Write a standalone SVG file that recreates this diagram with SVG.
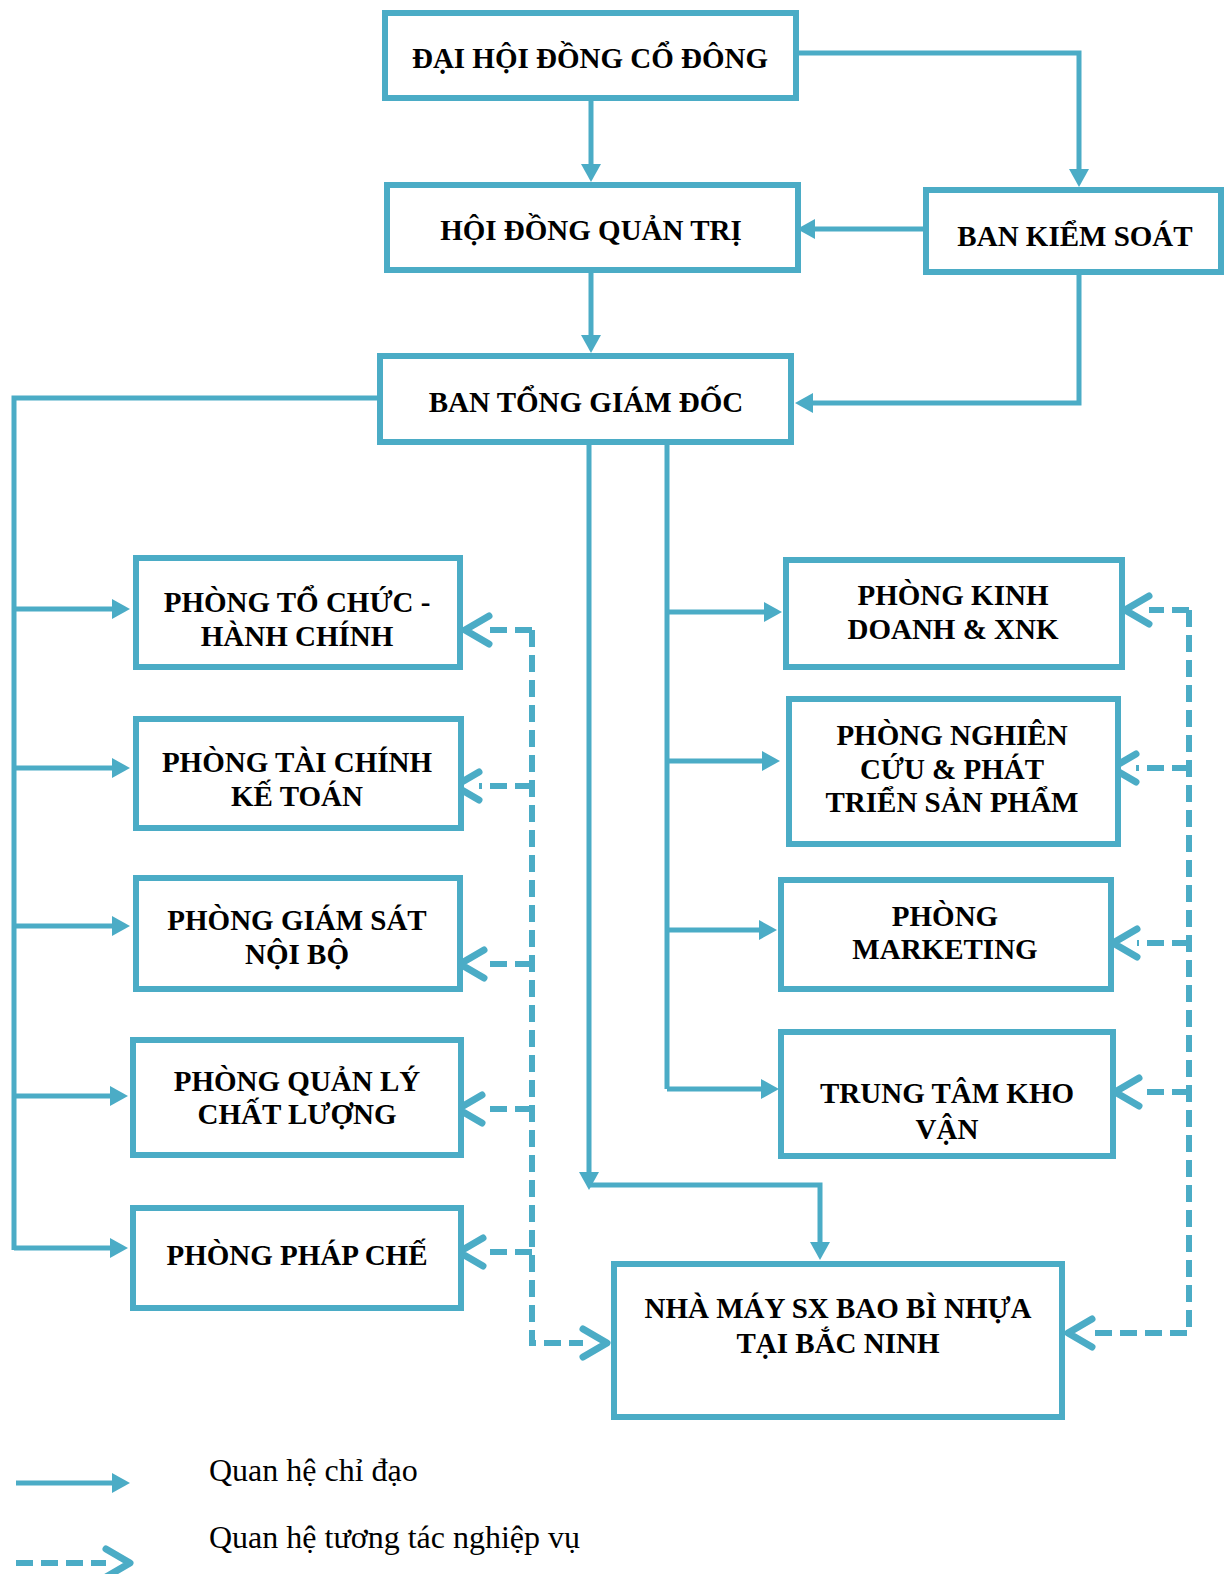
<svg xmlns="http://www.w3.org/2000/svg" width="1225" height="1574" viewBox="0 0 1225 1574">
<style>
.box{fill:#fff;stroke:#4BACC6;stroke-width:6}
.t{font-family:"Liberation Serif","Times New Roman",serif;font-weight:bold;font-size:29px;fill:#000;text-anchor:middle}
.lg{font-family:"Liberation Serif","Times New Roman",serif;font-size:32px;fill:#000}
.s{fill:none;stroke:#4BACC6;stroke-width:5}
.sa{marker-end:url(#arr)}
.d{fill:none;stroke:#4BACC6;stroke-width:6;stroke-dasharray:17 8;marker-end:url(#chev)}
</style>
<defs>
<marker id="arr" markerUnits="userSpaceOnUse" viewBox="0 0 18 20" markerWidth="18" markerHeight="20" refX="10" refY="10" orient="auto">
<path d="M0,0 L18,10 L0,20 Z" fill="#4BACC6"/>
</marker>
<marker id="chev" markerUnits="userSpaceOnUse" viewBox="-6 -20 40 40" markerWidth="40" markerHeight="40" refX="0" refY="0" orient="auto">
<path d="M0,-14 L24,0 L0,14" fill="none" stroke="#4BACC6" stroke-width="7" stroke-linecap="round" stroke-linejoin="round"/>
</marker>
</defs>

<g id="connectors">
<path class="s sa" d="M591,101 V174"/>
<path class="s sa" d="M799,53 H1079 V179"/>
<path class="s sa" d="M923,229 H805"/>
<path class="s sa" d="M591,273 V345"/>
<path class="s sa" d="M1079,275 V403 H803"/>
<path class="s" d="M377,398 H14 V1250"/>
<path class="s sa" d="M14,609 H122"/>
<path class="s sa" d="M14,768 H122"/>
<path class="s sa" d="M14,926 H122"/>
<path class="s sa" d="M14,1096 H120"/>
<path class="s sa" d="M14,1248 H120"/>
<path class="s" d="M667,445 V1089"/>
<path class="s sa" d="M667,612 H774"/>
<path class="s sa" d="M667,761 H772"/>
<path class="s sa" d="M667,930 H769"/>
<path class="s sa" d="M667,1089 H771"/>
<path class="s sa" d="M589,445 V1182"/>
<path class="s sa" d="M589,1185 H820 V1252"/>
<path class="d" d="M532,630 V1343 H583"/>
<path class="d" d="M532,630 H489"/>
<path class="d" d="M532,786 H479"/>
<path class="d" d="M532,964 H484"/>
<path class="d" d="M532,1109 H482"/>
<path class="d" d="M532,1252 H483"/>
<path class="d" d="M1189,610 V1333 H1092"/>
<path class="d" d="M1189,610 H1149"/>
<path class="d" d="M1189,768 H1136"/>
<path class="d" d="M1189,943 H1137"/>
<path class="d" d="M1189,1092 H1139"/>
</g>

<g id="n-dhdcd"><rect class="box" x="385" y="13" width="411" height="85"/><text class="t" x="590" y="68">ĐẠI HỘI ĐỒNG CỔ ĐÔNG</text></g>
<g id="n-hdqt"><rect class="box" x="387" y="185" width="411" height="85"/><text class="t" x="591" y="240">HỘI ĐỒNG QUẢN TRỊ</text></g>
<g id="n-bks"><rect class="box" x="926" y="190" width="295" height="82"/><text class="t" x="1075" y="246">BAN KIỂM SOÁT</text></g>
<g id="n-btgd"><rect class="box" x="380" y="356" width="411" height="86"/><text class="t" x="586" y="412">BAN TỔNG GIÁM ĐỐC</text></g>

<g id="n-ptchc"><rect class="box" x="136" y="558" width="324" height="109"/><text class="t" x="297" y="612">PHÒNG TỔ CHỨC -</text><text class="t" x="297" y="646">HÀNH CHÍNH</text></g>
<g id="n-ptckt"><rect class="box" x="136" y="719" width="325" height="109"/><text class="t" x="297" y="772">PHÒNG TÀI CHÍNH</text><text class="t" x="297" y="806">KẾ TOÁN</text></g>
<g id="n-pgsnb"><rect class="box" x="136" y="878" width="324" height="111"/><text class="t" x="297" y="930">PHÒNG GIÁM SÁT</text><text class="t" x="297" y="964">NỘI BỘ</text></g>
<g id="n-pqlcl"><rect class="box" x="133" y="1040" width="328" height="115"/><text class="t" x="297" y="1091">PHÒNG QUẢN LÝ</text><text class="t" x="297" y="1124">CHẤT LƯỢNG</text></g>
<g id="n-ppc"><rect class="box" x="133" y="1208" width="328" height="100"/><text class="t" x="297" y="1265">PHÒNG PHÁP CHẾ</text></g>

<g id="n-pkd"><rect class="box" x="786" y="560" width="336" height="107"/><text class="t" x="953" y="605">PHÒNG KINH</text><text class="t" x="953" y="639">DOANH &amp; XNK</text></g>
<g id="n-pnc"><rect class="box" x="789" y="699" width="329" height="145"/><text class="t" x="952" y="745">PHÒNG NGHIÊN</text><text class="t" x="952" y="779">CỨU &amp; PHÁT</text><text class="t" x="952" y="812">TRIỂN SẢN PHẨM</text></g>
<g id="n-pmkt"><rect class="box" x="781" y="880" width="330" height="109"/><text class="t" x="945" y="926">PHÒNG</text><text class="t" x="945" y="959">MARKETING</text></g>
<g id="n-ttkv"><rect class="box" x="781" y="1032" width="332" height="124"/><text class="t" x="947" y="1103">TRUNG TÂM KHO</text><text class="t" x="947" y="1139">VẬN</text></g>
<g id="n-nm"><rect class="box" x="614" y="1264" width="448" height="153"/><text class="t" x="838" y="1318">NHÀ MÁY SX BAO BÌ NHỰA</text><text class="t" x="838" y="1353">TẠI BẮC NINH</text></g>

<g id="legend">
<path class="s sa" d="M16,1483 H122"/>
<path class="d" d="M16,1563 H106"/>
<text class="lg" x="209" y="1481">Quan hệ chỉ đạo</text>
<text class="lg" x="209" y="1548">Quan hệ tương tác nghiệp vụ</text>
</g>
</svg>
